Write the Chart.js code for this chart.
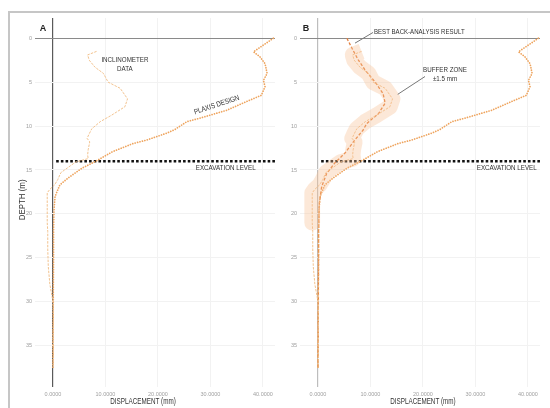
<!DOCTYPE html>
<html>
<head>
<meta charset="utf-8">
<script src="https://cdn.jsdelivr.net/npm/chart.js@4.4.1/dist/chart.umd.min.js"></script>
<style>
  html, body { margin: 0; padding: 0; background: #fff; width: 550px; height: 408px; overflow: hidden; }
  #frame { position: absolute; left: 8px; top: 11px; width: 580px; height: 440px;
           border-left: 2px solid #c6c6c6; border-top: 2px solid #c6c6c6; }
  #panelA { position: absolute; left: 0; top: 0; }
  #panelB { position: absolute; left: 275px; top: 0; }
</style>
</head>
<body>
<div id="frame"></div>
<canvas id="panelA" width="280" height="408"></canvas>
<canvas id="panelB" width="275" height="408"></canvas>
<script>
// ---- Inclinometer readings: depth (m) and lateral displacement (mm)
const inclinometerDepth = [1.5, 1.9, 2.5, 3.3, 4.0, 5.0, 5.7, 6.9, 7.8, 8.75, 9.5, 10.3, 11.0, 11.4, 11.8, 12.7, 13.3, 13.7, 14.1, 14.4, 15.3, 16.1, 16.7, 17.2, 17.6, 21.0, 22.0, 24.0, 26.0, 28.0, 29.0, 30.0, 32.0, 34.0, 36.0, 37.5];
const inclinometerDisp  = [8.3, 6.6, 6.9, 8.0, 9.6, 10.5, 12.8, 14.2, 13.7, 11.2, 9.0, 7.4, 6.8, 6.5, 7.0, 6.7, 6.6, 6.7, 4.3, 3.6, 1.5, 0.9, 0.3, -0.6, -1.1, -1.1, -1.0, -1.0, -0.9, -0.6, -0.3, 0.0, 0.1, 0.0, 0.1, 0.0];

// ---- PLAXIS design prediction
const plaxisDepth = [0, 1.55, 2.1, 2.9, 4.0, 4.8, 5.5, 6.5, 7.2, 8.2, 9.1, 9.5, 10.4, 10.8, 11.6, 12.0, 12.9, 14.05, 14.8, 15.9, 16.7, 18.0, 19.5, 22, 25, 30, 35, 37.5];
const plaxisDisp  = [42.0, 38.2, 39.4, 40.4, 40.8, 40.1, 40.4, 39.7, 36.9, 33.1, 28.0, 25.5, 23.2, 21.7, 17.8, 15.2, 11.4, 8.0, 5.5, 2.9, 1.3, 0.4, 0.2, 0.1, 0.1, 0.05, 0, 0];

// ---- Best back-analysis result
const bestDepth = [0, 1.4, 2.5, 3.6, 5.0, 6.3, 7.4, 8.6, 9.7, 10.45, 11.6, 13.1, 14.2, 15.4, 16.9, 18.8, 22, 26, 30, 34, 37.5];
const bestDisp  = [5.5, 6.7, 7.7, 8.95, 10.9, 12.4, 12.8, 11.5, 9.3, 8.6, 7.0, 5.1, 3.2, 1.65, 0.7, 0.25, 0.1, 0.1, 0.05, 0.05, 0];

// ---- Buffer zone around the inclinometer readings
const bufferHalfWidth = 1.5;     // mm
const bufferMaxDepth = 21;       // m

// ---- Excavation level
const excavationDepth = 14;
const excavationFrom = 0.6;

// ---- Axes
const xTicks = [0, 10, 20, 30, 40];
const yTicks = [0, 5, 10, 15, 20, 25, 30, 35];
const X_MIN = -3.43, X_MAX = 42.3;
const Y_MIN = -2.3, Y_MAX = 39.7;

const FONT = "'Liberation Sans Narrow', 'Arial Narrow', 'Liberation Sans', Arial, sans-serif";

const pts = (xs, ys) => xs.map((v, i) => ({ x: v, y: ys[i] }));
const inclinometer = pts(inclinometerDisp, inclinometerDepth);
const plaxis = pts(plaxisDisp, plaxisDepth);
const best = pts(bestDisp, bestDepth);
const buffer = inclinometer.filter(p => p.y <= bufferMaxDepth);
const excavation = [{ x: excavationFrom, y: excavationDepth }, { x: X_MAX, y: excavationDepth }];

// free text, leader lines and panel letters, placed in data units;
// "squeeze" narrows the glyphs horizontally for a condensed look
const notes = {
  id: 'notes',
  afterDatasetsDraw(chart, args, opts) {
    const { ctx } = chart;
    const sx = chart.scales.x, sy = chart.scales.y;
    ctx.save();
    (opts.lines || []).forEach(l => {
      ctx.strokeStyle = l.color || '#777';
      ctx.lineWidth = l.width || 1;
      ctx.beginPath();
      ctx.moveTo(sx.getPixelForValue(l.from[0]), sy.getPixelForValue(l.from[1]));
      ctx.lineTo(sx.getPixelForValue(l.to[0]), sy.getPixelForValue(l.to[1]));
      ctx.stroke();
    });
    (opts.texts || []).forEach(t => {
      ctx.save();
      ctx.translate(sx.getPixelForValue(t.x), sy.getPixelForValue(t.y));
      ctx.rotate(t.rotate || 0);
      const k = t.squeeze || 0.83;
      ctx.scale(k, 1);
      ctx.font = `${t.weight || 'normal'} ${t.size || 7.5}px ${FONT}`;
      ctx.fillStyle = t.color || '#333';
      ctx.textAlign = t.align || 'center';
      ctx.textBaseline = 'middle';
      ctx.fillText(t.text, 0, 0);
      ctx.restore();
    });
    ctx.restore();
  }
};

function makeScales(axisColor) {
  return {
    x: {
      type: 'linear', min: X_MIN, max: X_MAX,
      afterBuildTicks: s => { s.ticks = xTicks.map(v => ({ value: v })); },
      afterFit: s => { s.height = 21; },
      grid: { drawTicks: false, color: c => (c.tick && c.tick.value === 0) ? axisColor : '#f2f2f2', lineWidth: c => (c.tick && c.tick.value === 0) ? 1.2 : 1 },
      border: { display: false },
      ticks: { padding: 4, autoSkip: false, maxRotation: 0, color: '#a0a0a0',
               font: { size: 5.5, family: FONT }, callback: v => Number(v).toFixed(4) }
    },
    y: {
      type: 'linear', reverse: true, min: Y_MIN, max: Y_MAX,
      afterBuildTicks: s => { s.ticks = yTicks.map(v => ({ value: v })); },
      afterFit: s => { s.width = 25; },
      grid: { drawTicks: false, color: c => (c.tick && c.tick.value === 0) ? '#8a8a8a' : '#f2f2f2' },
      border: { display: false },
      ticks: { padding: 3, autoSkip: false, color: '#a0a0a0', font: { size: 5.5, family: FONT } }
    }
  };
}

const lineBase = { showLine: true, pointRadius: 0, fill: false, tension: 0 };
const inclinometerStyle = { ...lineBase, data: inclinometer, borderColor: '#f2c28e', borderWidth: 1, borderDash: [2.5, 1.2] };
const plaxisStyle = { ...lineBase, data: plaxis, borderColor: '#eea45e', borderWidth: 1.7, borderDash: [0.1, 2.4], borderCapStyle: 'round' };
const excavationStyle = { ...lineBase, data: excavation, borderColor: '#111', borderWidth: 2.6, borderDash: [2.6, 2.1] };

const common = {
  responsive: false, animation: false, devicePixelRatio: 1,
  plugins: { legend: { display: false }, tooltip: { enabled: false } }
};

new Chart(document.getElementById('panelA'), {
  type: 'scatter',
  data: { datasets: [
    { label: 'Inclinometer data', ...inclinometerStyle },
    { label: 'PLAXIS design', ...plaxisStyle },
    { label: 'Excavation level', ...excavationStyle }
  ] },
  options: {
    ...common,
    layout: { padding: { left: 10, top: 18, right: 5, bottom: 0 } },
    scales: makeScales('#5a5a5a'),
    plugins: {
      ...common.plugins,
      notes: {
        texts: [
          { text: 'A', x: -1.9, y: -1.05, size: 9, weight: 'bold', color: '#222', squeeze: 1 },
          { text: 'INCLINOMETER', x: 13.7, y: 2.48 },
          { text: 'DATA', x: 13.7, y: 3.5 },
          { text: 'PLAXIS DESIGN', x: 31.2, y: 7.6, rotate: -0.32 },
          { text: 'EXCAVATION LEVEL', x: 32.9, y: 14.74 },
          { text: 'DISPLACEMENT (mm)', x: 17.15, y: 41.3, size: 9, squeeze: 0.7 },
          { text: 'DEPTH (m)', x: -5.9, y: 18.4, size: 9, rotate: -Math.PI / 2, squeeze: 0.88 }
        ]
      }
    }
  },
  plugins: [notes]
});

new Chart(document.getElementById('panelB'), {
  type: 'scatter',
  data: { datasets: [
    { label: 'Buffer zone', ...lineBase, data: buffer, borderColor: 'rgba(248,192,148,0.36)',
      borderJoinStyle: 'round', borderCapStyle: 'butt',
      borderWidth: c => { const s = c.chart.scales.x; return s ? 2 * (s.getPixelForValue(bufferHalfWidth) - s.getPixelForValue(0)) : 16; } },
    { label: 'Inclinometer data', ...inclinometerStyle },
    { label: 'PLAXIS design', ...plaxisStyle },
    { label: 'Best back-analysis result', ...lineBase, data: best, borderColor: '#e47f3c', borderWidth: 1.3, borderDash: [3, 1.8] },
    { label: 'Excavation level', ...excavationStyle }
  ] },
  options: {
    ...common,
    layout: { padding: { left: 0, top: 18, right: 10, bottom: 0 } },
    scales: makeScales('#bdbdbd'),
    plugins: {
      ...common.plugins,
      notes: {
        lines: [
          { from: [7.05, 0.56], to: [10.48, -0.65], color: '#777', width: 1 },
          { from: [15.19, 6.39], to: [20.39, 4.36], color: '#777', width: 1 }
        ],
        texts: [
          { text: 'B', x: -2.29, y: -1.05, size: 9, weight: 'bold', color: '#222', squeeze: 1 },
          { text: 'BEST BACK-ANALYSIS RESULT', x: 10.67, y: -0.7, align: 'left', squeeze: 0.81 },
          { text: 'BUFFER ZONE', x: 24.2, y: 3.62 },
          { text: '\u00b11.5 mm', x: 24.2, y: 4.64 },
          { text: 'EXCAVATION LEVEL', x: 35.96, y: 14.77 },
          { text: 'DISPLACEMENT (mm)', x: 20.0, y: 41.4, size: 9, squeeze: 0.7 }
        ]
      }
    }
  },
  plugins: [notes]
});
</script>
</body>
</html>
